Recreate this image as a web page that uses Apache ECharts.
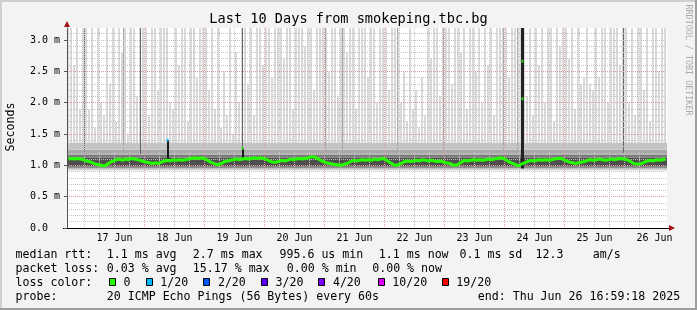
<!DOCTYPE html>
<html><head><meta charset="utf-8">
<script src="https://cdn.jsdelivr.net/npm/echarts@6/dist/echarts.min.js"></script>
<style>html,body{margin:0;padding:0;background:#f3f3f3}#c{width:697px;height:310px}</style>
</head><body><div id="c"></div>
<script>
// ---- time range (hours since 16 Jun 00:00) ----
const startHour = 16.9883;   // Mon Jun 16 16:59:18
const endHour = 256.9883;    // Thu Jun 26 16:59:18
const yMax = 3.19;           // ms

// ---- axis ticks / labels ----
const dayLabels = ['17 Jun','18 Jun','19 Jun','20 Jun','21 Jun','22 Jun','23 Jun','24 Jun','25 Jun','26 Jun'];
const dayLabelHours = [36,60,84,108,132,156,180,204,228,252];
const midnightHours = [24,48,72,96,120,144,168,192,216,240];
const sixHourGrid = [18,24,30,36,42,48,54,60,66,72,78,84,90,96,102,108,114,120,126,132,138,144,150,156,162,168,174,180,186,192,198,204,210,216,222,228,234,240,246,252];
const yLabelValues = [0,0.5,1.0,1.5,2.0,2.5,3.0];

// ---- smoke: top of the light grey smoke per 72-min column (ms) ----
const smokeTop = [
  3.2,3.2,2.6,3.2,1.9,3.2,
  3.2,1.9,3.2,1.6,3.2,2.0,1.8,3.2,2.3,3.2,1.7,3.2,2.8,3.2,1.5,3.2,3.2,2.1,3.2,3.2,
  3.2,1.8,3.2,3.2,2.2,3.2,3.2,3.2,2.0,1.9,3.2,2.6,3.2,3.2,1.7,3.2,3.2,2.4,3.2,3.2,
  3.2,2.2,3.2,1.9,3.2,1.6,2.5,1.8,3.2,1.5,2.8,2.0,3.2,3.2,2.3,3.2,1.8,3.2,3.2,2.6,
  3.2,3.2,2.4,3.2,3.2,3.2,2.7,3.2,3.2,1.9,3.2,3.2,3.2,2.9,3.2,3.2,2.2,3.2,3.2,3.2,
  3.2,2.5,3.2,3.2,2.1,3.2,3.2,2.8,3.2,3.2,1.9,3.2,3.2,3.2,2.4,3.2,3.2,2.0,3.2,3.2,
  3.2,2.2,3.2,3.2,3.2,2.0,2.5,1.7,3.2,1.9,2.2,1.6,2.4,1.8,3.2,2.7,3.2,3.2,2.1,3.2,
  3.2,3.2,2.3,3.2,3.2,2.8,3.2,1.9,3.2,3.2,2.5,3.2,2.0,3.2,2.6,3.2,1.8,3.2,3.2,3.2,
  3.2,2.4,3.2,3.2,3.2,3.2,3.2,2.1,3.2,1.8,3.2,2.6,3.2,2.0,3.2,3.2,1.7,3.2,2.9,3.2,
  3.2,2.7,3.2,1.9,3.2,2.3,2.4,3.2,2.3,2.2,3.2,2.4,3.2,3.2,2.0,3.2,3.2,3.2,2.6,3.2,
  3.2,2.0,3.2,1.8,3.2,3.2,2.2,3.2,1.7,3.2,3.2,2.5,3.2,3.2
];
// ---- median rtt per column (ms) ----
const median = [
  1.10,1.11,1.10,1.11,1.10,1.09,
  1.07,1.06,1.04,1.02,1.01,1.00,0.99,1.02,1.05,1.07,1.09,1.10,1.08,1.10,1.09,1.11,1.10,1.09,1.08,1.06,
  1.05,1.04,1.03,1.04,1.03,1.05,1.07,1.08,1.07,1.09,1.08,1.09,1.08,1.09,1.10,1.11,1.12,1.11,1.12,1.11,
  1.09,1.06,1.04,1.02,1.01,1.03,1.06,1.07,1.08,1.09,1.10,1.09,1.10,1.11,1.10,1.11,1.12,1.11,1.12,1.11,
  1.09,1.07,1.05,1.05,1.06,1.08,1.07,1.08,1.10,1.09,1.10,1.11,1.10,1.11,1.12,1.14,1.13,1.11,1.08,1.06,
  1.04,1.03,1.02,1.01,1.01,1.00,1.02,1.03,1.06,1.08,1.07,1.08,1.09,1.08,1.09,1.08,1.10,1.09,1.10,1.11,
  1.08,1.05,1.02,1.00,1.01,1.03,1.06,1.07,1.06,1.07,1.08,1.07,1.09,1.08,1.07,1.08,1.07,1.06,1.07,1.05,
  1.04,1.03,1.01,1.00,1.02,1.05,1.08,1.07,1.08,1.09,1.08,1.09,1.08,1.09,1.10,1.09,1.10,1.11,1.12,1.11,
  1.08,1.05,1.03,1.01,0.99,1.02,1.04,1.06,1.08,1.07,1.08,1.09,1.08,1.09,1.08,1.09,1.10,1.11,1.11,1.09,
  1.07,1.05,1.04,1.03,1.04,1.05,1.06,1.08,1.09,1.08,1.09,1.10,1.09,1.08,1.09,1.10,1.09,1.10,1.11,1.10,
  1.09,1.07,1.04,1.02,1.02,1.03,1.05,1.07,1.08,1.07,1.09,1.08,1.09,1.10
];
// edges of the dense smoke band (ms)
const bandEdges = [0.92, 0.95, 0.98, 1.12, 1.17, 1.25, 1.36];

// ---- individual dense columns: [hour, from ms, to ms] ----
const darkLines = [[24.05,1.18,3.19],[46.39,1.18,3.19],[87.19,1.18,3.19],[239.59,1.18,3.19]];
const midLines = [[39.59,1.18,3.19],[120.39,1.18,3.19],[127.19,1.18,3.19],[149.19,1.18,3.19],[167.59,1.18,3.19],[191.59,1.18,3.19],[197.19,1.18,3.19]];
const blackSpikes = [[57.19,1.10,1.40],[87.19,1.10,1.27]];
const outageSpike = [[199.19,0.95,3.19]];
// median points with loss (hour, ms)
const loss0Points = [[87.19,1.27],[199.19,2.66],[199.19,2.06]];
const loss1Points = [[57.19,1.40]];

// ---- legend texts ----
const lossLabels = ['0','1/20','2/20','3/20','4/20','10/20','19/20'];
const lossColors = ['#26ff00','#00b8ff','#0059ff','#5e00ff','#7e00ff','#dd00ff','#ff0000'];

const colIdx = smokeTop.map((_, i) => String(i));
const mono = 'DejaVu Sans Mono';

// stacked dense band layers
const bandColors = ['#d0d0d0','#8e8e8e','#4e4e4e','#7a7a7a','#a8a8a8','#c4c4c4'];
const smokeSeries = [];
smokeSeries.push({type:'bar', stack:'smoke', xAxisIndex:0, yAxisIndex:0, barWidth:'100%', silent:true,
  itemStyle:{color:'rgba(0,0,0,0)'}, data: smokeTop.map(() => bandEdges[0])});
for (let k = 0; k < bandEdges.length - 1; k++) {
  smokeSeries.push({type:'bar', stack:'smoke', xAxisIndex:0, yAxisIndex:0, barWidth:'100%', silent:true,
    itemStyle:{color: bandColors[k]},
    data: smokeTop.map(t => Math.max(0, Math.min(t, bandEdges[k+1]) - bandEdges[k]))});
}
// light smoke above the band, drawn as a 2px stroke per 3px column
smokeSeries.push({type:'custom', xAxisIndex:0, yAxisIndex:0, silent:true, z:2,
  data: smokeTop.map((t, i) => [i, bandEdges[bandEdges.length-1], t]),
  renderItem: function (params, api) {
    const lo = api.coord([api.value(0), api.value(1)]);
    const hi = api.coord([api.value(0), Math.min(api.value(2), yMax)]);
    const w = api.size([1, 0])[0];
    return {type:'rect', shape:{x:Math.round(lo[0] - w/2), y:hi[1], width:w - 1, height:lo[1] - hi[1]},
      style:{fill:'#d9d9d9'}};
  }});

function lineSeries(data, color, width, z) {
  return {type:'custom', xAxisIndex:1, yAxisIndex:0, silent:true, z:z, data:data,
    renderItem: function (params, api) {
      const a = api.coord([api.value(0), api.value(1)]);
      const b = api.coord([api.value(0), api.value(2)]);
      const x = Math.round(a[0] - width / 2);
      return {type:'rect', shape:{x:x, y:b[1], width:width, height:a[1]-b[1]}, style:{fill:color}};
    }};
}

const graphic = [
  {type:'rect', shape:{x:0,y:0,width:697,height:2}, style:{fill:'#cfcfcf'}},
  {type:'rect', shape:{x:0,y:0,width:2,height:310}, style:{fill:'#cfcfcf'}},
  {type:'rect', shape:{x:0,y:308,width:697,height:2}, style:{fill:'#9e9e9e'}},
  {type:'rect', shape:{x:695,y:0,width:2,height:310}, style:{fill:'#9e9e9e'}},
  {type:'text', x:348.5, y:19.5, style:{text:'Last 10 Days from smokeping.tbc.bg', fontFamily:mono, fontSize:13.6, fill:'#000', align:'center', verticalAlign:'middle'}},
  {type:'text', x:11, y:127, rotation:Math.PI/2, style:{text:'Seconds', fontFamily:mono, fontSize:11.6, fill:'#000', align:'center', verticalAlign:'middle'}},
  {type:'text', x:688, y:60, rotation:-Math.PI/2, style:{text:'RRDTOOL / TOBI OETIKER', fontFamily:mono, fontSize:8.4, fill:'#aaaaaa', align:'center', verticalAlign:'middle'}},
  {type:'polygon', shape:{points:[[64,27],[70,27],[67,21]]}, style:{fill:'#a01010'}},
  {type:'polygon', shape:{points:[[669,225],[669,231],[675,228]]}, style:{fill:'#a01010'}},
  {type:'rect', shape:{x:63,y:228,width:606,height:1}, style:{fill:'#000'}}
];
function txt(s, x, y) {
  graphic.push({type:'text', x:x, y:y, style:{text:s, fontFamily:mono, fontSize:11.6, fill:'#000', align:'left', verticalAlign:'middle'}});
}
// line 1
txt('median rtt:', 15.5, 254.5); txt('1.1 ms avg', 106.8, 254.5); txt('2.7 ms max', 192.8, 254.5);
txt('995.6 us min', 279.5, 254.5); txt('1.1 ms now', 378.8, 254.5); txt('0.1 ms sd', 459.5, 254.5);
txt('12.3', 535.5, 254.5); txt('am/s', 592.8, 254.5);
// line 2
txt('packet loss:', 15.5, 268.5); txt('0.03 % avg', 106.8, 268.5); txt('15.17 % max', 192.8, 268.5);
txt('0.00 % min', 286.8, 268.5); txt('0.00 % now', 372.2, 268.5);
// line 3
txt('loss color:', 15.5, 282.5);
const boxX = [109, 145.7, 203.3, 261, 318.3, 377.7, 441.7];
lossLabels.forEach((l, i) => {
  graphic.push({type:'rect', shape:{x:Math.round(boxX[i])+0.5, y:278.5, width:6, height:7}, style:{fill:lossColors[i], stroke:'#000', lineWidth:1}});
  txt(l, boxX[i] + 14.6, 282.5);
});
// line 4
txt('probe:', 15.5, 296.5); txt('20 ICMP Echo Pings (56 Bytes) every 60s', 106.8, 296.5);
txt('end: Thu Jun 26 16:59:18 2025', 477.8, 296.5);

const chart = echarts.init(document.getElementById('c'), null, {renderer:'canvas'});
chart.setOption({
  animation:false,
  backgroundColor:'#f3f3f3',
  grid:{left:67, right:30, top:28, bottom:82, show:true, backgroundColor:'#ffffff', borderWidth:0},
  xAxis:[
    {type:'category', data:colIdx, boundaryGap:true, show:false},
    {type:'value', min:startHour, max:endHour, position:'bottom', z:11,
      axisLine:{show:false},
      axisTick:{show:false, customValues:sixHourGrid},
      axisLabel:{show:true, customValues:dayLabelHours, margin:5, fontFamily:mono, fontSize:10, color:'#000',
        formatter:function(v){ const i = dayLabelHours.indexOf(Math.round(v)); return i >= 0 ? dayLabels[i] : ''; }},
      splitLine:{show:true, showMinLine:false, showMaxLine:false, lineStyle:{color:'#c4c4c4', width:1, type:[1,1]}}},
    {type:'value', min:startHour, max:endHour, position:'bottom', z:12,
      axisLine:{show:false}, axisLabel:{show:false},
      axisTick:{show:false, customValues:midnightHours},
      splitLine:{show:true, showMinLine:false, showMaxLine:false, lineStyle:{color:'#e39a9a', width:1, type:[1,1]}}}
  ],
  yAxis:[
    {type:'value', min:0, max:yMax, interval:0.5, z:12,
      axisLine:{show:true, lineStyle:{color:'#555', width:1}},
      axisTick:{show:true, length:3, customValues:yLabelValues, lineStyle:{color:'#555'}},
      axisLabel:{show:true, customValues:yLabelValues, align:'left', margin:37, fontFamily:mono, fontSize:10, color:'#000',
        formatter:function(v){ if (Math.abs(v*2-Math.round(v*2))>1e-6) return ''; return v === 0 ? '0.0' : v.toFixed(1) + ' m'; }},
      splitLine:{show:true, showMinLine:false, showMaxLine:false, lineStyle:{color:'#e39a9a', width:1, type:[1,1]}}},
    {type:'value', min:0, max:yMax, interval:0.1, z:11, position:'left',
      axisLine:{show:false}, axisTick:{show:false}, axisLabel:{show:false},
      splitLine:{show:true, showMinLine:false, showMaxLine:false, lineStyle:{color:'#c4c4c4', width:1, type:[1,1]}}}
  ],
  series: smokeSeries.concat([
    lineSeries(midLines, '#a8a8a8', 1, 3),
    lineSeries(darkLines, '#666666', 1, 3),
    lineSeries(blackSpikes, '#1a1a1a', 2, 13),
    lineSeries(outageSpike, '#222222', 3, 13),
    {type:'line', xAxisIndex:0, yAxisIndex:0, data:median, step:'middle', symbol:'none', z:20, silent:true,
      lineStyle:{color:'#26ff00', width:3}},
    {type:'scatter', xAxisIndex:1, yAxisIndex:0, data:loss0Points, symbol:'rect', symbolSize:[2,3], z:21, silent:true,
      itemStyle:{color:'#26ff00'}},
    {type:'scatter', xAxisIndex:1, yAxisIndex:0, data:loss1Points, symbol:'rect', symbolSize:[2,3], z:21, silent:true,
      itemStyle:{color:'#00b8ff'}}
  ]),
  graphic: graphic
});
</script></body></html>
